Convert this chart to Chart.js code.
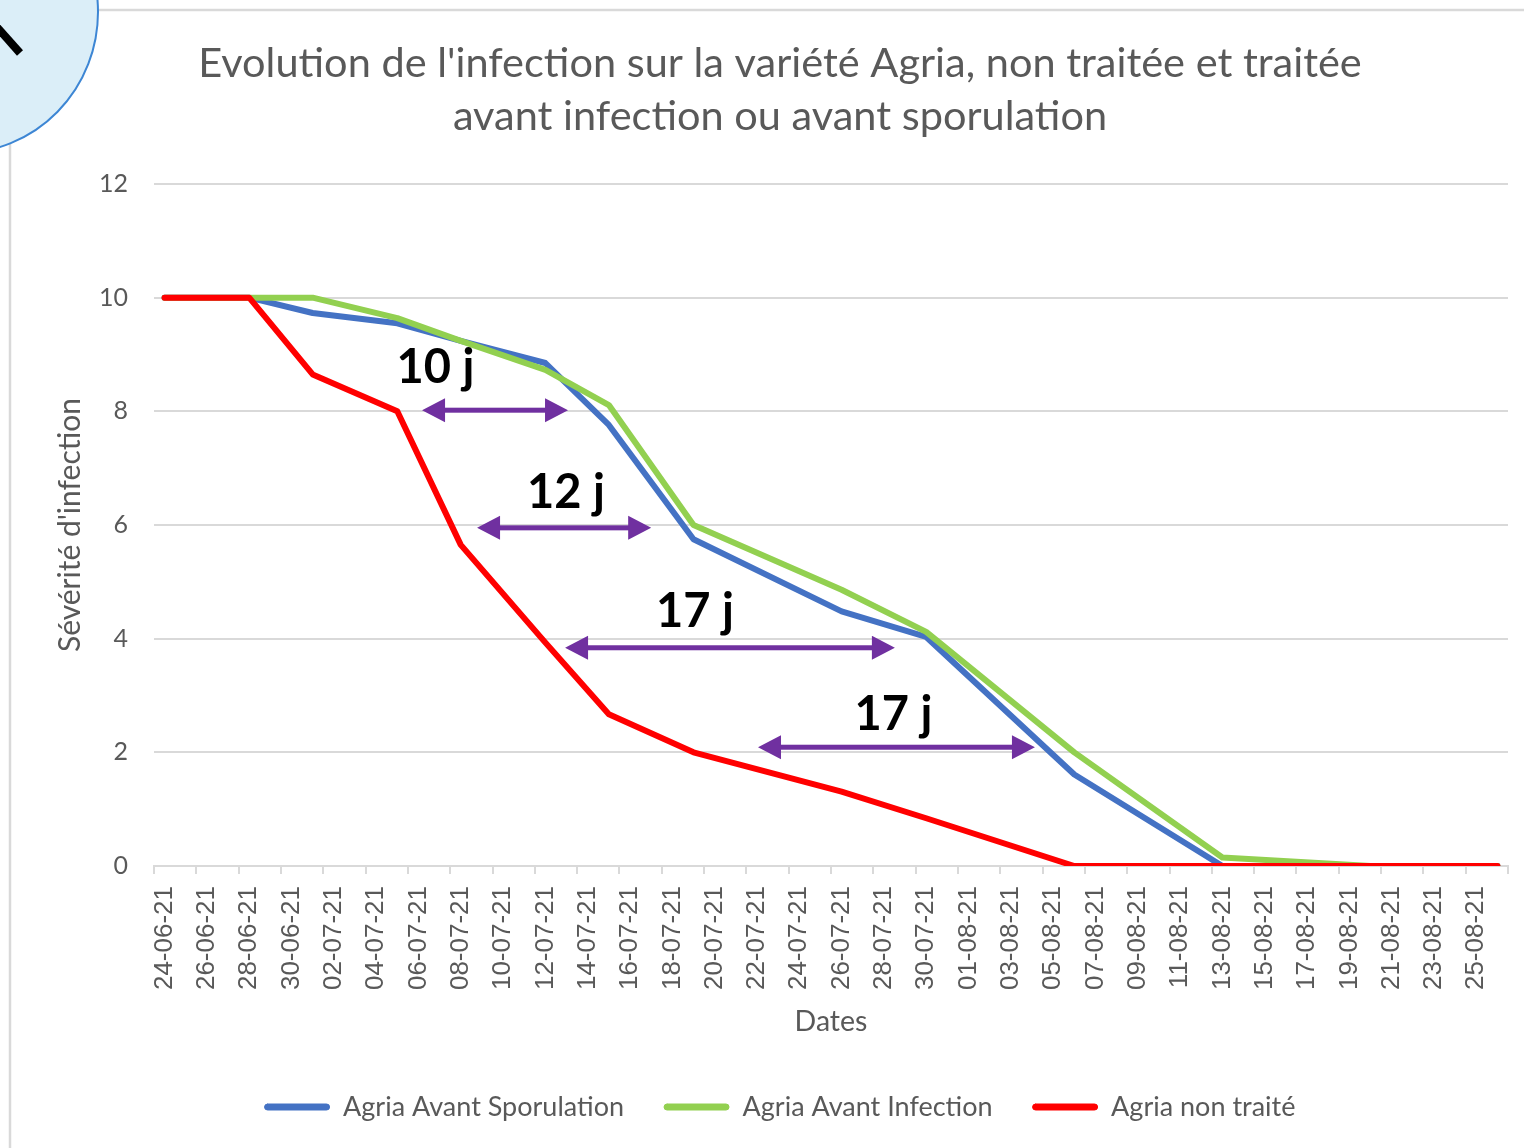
<!DOCTYPE html>
<html><head><meta charset="utf-8">
<script src="https://cdn.jsdelivr.net/npm/chart.js@4"></script>
<style>html,body{margin:0;padding:0;background:#fff}canvas{display:block}</style>
</head><body>
<canvas id="c" width="1524" height="1148"></canvas>
<script>
// ---------- data ----------
const titleLines = ["Evolution de l'infection sur la variété Agria, non traitée et traitée", "avant infection ou avant sporulation"];
const xTitle = 'Dates';
const yTitle = "Sévérité d'infection";
const seriesNames = ['Agria Avant Sporulation', 'Agria Avant Infection', 'Agria non traité'];
const axisStart = '24-06-21';
const sampleDates = ['24-06-21','28-06-21','01-07-21','05-07-21','08-07-21','12-07-21','15-07-21','19-07-21','26-07-21','30-07-21','06-08-21','13-08-21','20-08-21','26-08-21'];
const avantSporulation = [10, 10, 9.73, 9.55, 9.24, 8.85, 7.76, 5.75, 4.48, 4.03, 1.61, 0, 0, 0];
const avantInfection   = [10, 10, 10.0, 9.64, 9.24, 8.73, 8.11, 6.0, 4.86, 4.12, 2.0, 0.15, 0, 0];
const nonTraite        = [10, 10, 8.65, 8.0, 5.65, 3.93, 2.67, 2.0, 1.31, 0.84, 0, 0, 0, 0];
const xTickLabels = ['24-06-21','26-06-21','28-06-21','30-06-21','02-07-21','04-07-21','06-07-21','08-07-21','10-07-21','12-07-21','14-07-21','16-07-21','18-07-21','20-07-21','22-07-21','24-07-21','26-07-21','28-07-21','30-07-21','01-08-21','03-08-21','05-08-21','07-08-21','09-08-21','11-08-21','13-08-21','15-08-21','17-08-21','19-08-21','21-08-21','23-08-21','25-08-21'];
const yTickValues = [0, 2, 4, 6, 8, 10, 12];
// gap annotations (days since axis start / severity)
const gapLabels = ['10 j', '12 j', '17 j', '17 j'];
const gapFrom   = [12.17, 14.77, 18.93, 28.05];
const gapTo     = [19.07, 23.0, 34.52, 41.14];
const gapLevel  = [8.02, 5.95, 3.84, 2.09];
const gapTextX  = [12.8, 18.97, 25.07, 34.45];
const gapTextY  = [8.5, 6.3, 4.21, 2.39];

// ---------- helpers ----------
function dayIndex(s) {
  const p = s.split('-').map(Number);
  const a = axisStart.split('-').map(Number);
  return (Date.UTC(2000 + p[2], p[1] - 1, p[0]) - Date.UTC(2000 + a[2], a[1] - 1, a[0])) / 86400000;
}
const pts = arr => sampleDates.map((d, i) => ({x: dayIndex(d), y: arr[i]}));
const totalDays = dayIndex('26-08-21') + 1;

const framePlugin = {
  id: 'frame',
  beforeDraw(chart) {
    const ctx = chart.ctx;
    ctx.save();
    ctx.fillStyle = '#fff';
    ctx.fillRect(0, 0, chart.width, chart.height);
    ctx.strokeStyle = '#d9d9d9';
    ctx.lineWidth = 2.5;
    ctx.beginPath();
    ctx.moveTo(10, chart.height + 5);
    ctx.lineTo(10, 10);
    ctx.lineTo(chart.width + 5, 10);
    ctx.stroke();
    // section marker bubble (cropped)
    ctx.beginPath();
    ctx.ellipse(-40, 12, 138, 141, 0, 0, Math.PI * 2);
    ctx.fillStyle = '#dbeef8';
    ctx.fill();
    ctx.strokeStyle = '#3d86d4';
    ctx.lineWidth = 2;
    ctx.stroke();
    ctx.beginPath();
    ctx.moveTo(-4, 26);
    ctx.lineTo(20, 53);
    ctx.strokeStyle = '#000';
    ctx.lineWidth = 8;
    ctx.stroke();
    ctx.restore();
  }
};

const gapPlugin = {
  id: 'gaps',
  afterDatasetsDraw(chart) {
    const {ctx, scales: {x, y}} = chart;
    ctx.save();
    gapLabels.forEach((t, i) => {
      const x1 = x.getPixelForValue(gapFrom[i]);
      const x2 = x.getPixelForValue(gapTo[i]);
      const yy = y.getPixelForValue(gapLevel[i]);
      ctx.fillStyle = '#7030a0';
      ctx.fillRect(x1 + 20, yy - 2.5, (x2 - x1) - 40, 5);
      ctx.beginPath();
      ctx.moveTo(x1, yy); ctx.lineTo(x1 + 23, yy - 12); ctx.lineTo(x1 + 23, yy + 12); ctx.closePath();
      ctx.moveTo(x2, yy); ctx.lineTo(x2 - 23, yy - 12); ctx.lineTo(x2 - 23, yy + 12); ctx.closePath();
      ctx.fill();
      ctx.fillStyle = '#000';
      ctx.font = 'bold 47px Lato';
      ctx.textAlign = 'center';
      ctx.textBaseline = 'alphabetic';
      ctx.fillText(t, x.getPixelForValue(gapTextX[i]), y.getPixelForValue(gapTextY[i]));
    });
    ctx.restore();
  }
};

const line = (label, data, color, order) => ({
  label, data: pts(data), borderColor: color, backgroundColor: color,
  borderWidth: 6, pointRadius: 0, tension: 0, order,
  borderCapStyle: 'round', borderJoinStyle: 'round'
});

new Chart(document.getElementById('c'), {
  type: 'line',
  data: {
    datasets: [
      line(seriesNames[0], avantSporulation, '#4472c4', 3),
      line(seriesNames[1], avantInfection, '#92d050', 2),
      line(seriesNames[2], nonTraite, '#ff0000', 1)
    ]
  },
  plugins: [framePlugin, gapPlugin],
  options: {
    responsive: false, animation: false, devicePixelRatio: 1,
    layout: {padding: {left: 52, right: 16, top: 0, bottom: 17.5}},
    plugins: {
      tooltip: {enabled: false},
      title: {
        display: true, text: titleLines, color: '#595959',
        font: {family: 'Lato', size: 41.5, weight: 'normal', lineHeight: '53px'},
        padding: {top: 37.5, bottom: 40.5}
      },
      legend: {
        position: 'bottom',
        labels: {
          sort: (a, b) => a.datasetIndex - b.datasetIndex,
          boxWidth: 65, boxHeight: 6, padding: 40,
          color: '#595959', font: {family: 'Lato', size: 27},
          useBorderRadius: true, borderRadius: 3,
          generateLabels: chart => Chart.defaults.plugins.legend.labels.generateLabels(chart).map(it => Object.assign(it, {lineWidth: 1}))
        }
      }
    },
    scales: {
      x: {
        type: 'linear', min: -0.5, max: totalDays - 0.5,
        afterBuildTicks: s => { s.ticks = xTickLabels.concat(['']).map((_, i) => ({value: -0.5 + 2 * i})); },
        afterFit: s => { s.height = 187.5; s.paddingLeft = 0; s.paddingRight = 0; },
        ticks: {
          autoSkip: false, minRotation: 90, maxRotation: 90, labelOffset: 10.58, padding: 12,
          color: '#595959', font: {family: 'Liberation Sans', size: 26},
          callback: (v, i) => xTickLabels[i] !== undefined ? xTickLabels[i] : ''
        },
        grid: {drawOnChartArea: false, drawTicks: true, tickLength: 8, color: '#d9d9d9', lineWidth: 2},
        border: {display: true, color: '#d9d9d9', width: 2},
        title: {display: true, text: xTitle, color: '#595959', font: {family: 'Lato', size: 28.5}, padding: {top: 0, bottom: 15}}
      },
      y: {
        min: yTickValues[0], max: yTickValues[yTickValues.length - 1],
        afterBuildTicks: s => { s.ticks = yTickValues.map(v => ({value: v})); },
        afterFit: s => { s.width = 102; },
        ticks: {padding: 26, color: '#595959', font: {family: 'Lato', size: 25}},
        grid: {color: '#d9d9d9', lineWidth: 2, drawTicks: false},
        border: {display: false},
        title: {display: true, text: yTitle, color: '#595959', font: {family: 'Lato', size: 30}, padding: {top: 0, bottom: 0}}
      }
    }
  }
});
</script>
</body></html>
